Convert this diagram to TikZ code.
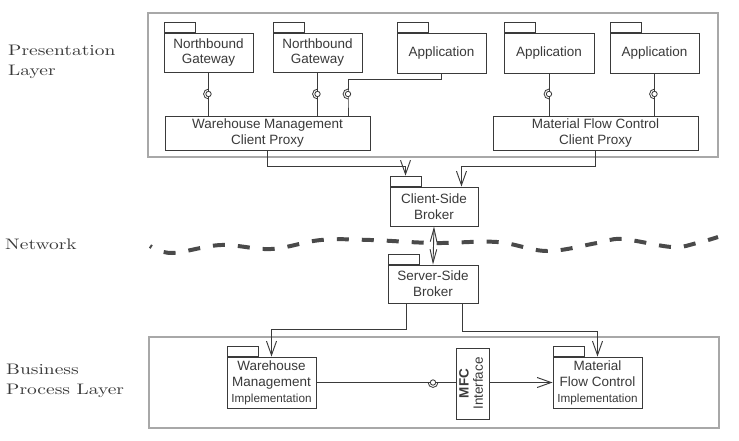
\documentclass[tikz,border=0pt]{standalone}
\usepackage{fontspec}
\usetikzlibrary{arrows.meta}
\newfontfamily\boxfont{Liberation Sans}
\newfontfamily\labelfont[FakeStretch=1.28]{lmroman10-regular.otf}
\definecolor{linegray}{HTML}{3A3A3A}
\definecolor{layergray}{HTML}{A8A8A8}
\definecolor{netgray}{HTML}{4A4A4A}
\tikzset{
  pkg/.style={draw=linegray, line width=0.8pt, fill=white, align=center, inner sep=0pt,
    text=linegray, font=\boxfont\fontsize{11.5}{13.6}\selectfont},
  pkgtab/.style={draw=linegray, line width=0.8pt, minimum width=0.93cm, minimum height=0.3cm,
    inner sep=0pt, anchor=south west},
  layer/.style={draw=layergray, line width=1.7pt},
  lbl/.style={anchor=north west, align=left, inner sep=0pt, text=linegray,
    font=\labelfont\fontsize{13}{17}\selectfont},
  conn/.style={draw=linegray, line width=0.8pt},
  arr/.style={-{Straight Barb[length=4.2mm,width=3mm]}},
  ball/.style={circle, draw=linegray, line width=0.7pt, fill=white, minimum size=4.6pt, inner sep=0pt},
}
\newcommand\socket[2]{\draw[linegray, line width=0.7pt] ([shift={(#2+90:4.2pt)}]#1.center) arc[start angle=#2+90, end angle=#2+270, radius=4.2pt];}
\begin{document}
\begin{tikzpicture}[x=0.03cm, y=-0.03cm]
\useasboundingbox (0,0) rectangle (739,440);

\draw[layer] (148,13) rectangle (718,157);
\draw[layer] (149,337) rectangle (719,428);

\node[lbl] (preslbl) at (8,45) {Presentation\\Layer};
\node[lbl] (netlbl) at (5,239) {Network};
\node[lbl] (buslbl) at (6,364) {Business\\Process Layer};

\node[pkg, minimum width=2.67cm, minimum height=1.17cm] (nb1) at (208.5,52.5) {Northbound\\Gateway};
\node[pkg, minimum width=2.67cm, minimum height=1.17cm] (nb2) at (317.5,52.5) {Northbound\\Gateway};
\node[pkg, minimum width=2.67cm, minimum height=1.2cm] (app1) at (441.5,53) {Application};
\node[pkg, minimum width=2.7cm, minimum height=1.2cm] (app2) at (549,53) {Application};
\node[pkg, minimum width=2.67cm, minimum height=1.2cm] (app3) at (654.5,53) {Application};
\node[pkg, minimum width=6.15cm, minimum height=1.02cm] (wmproxy) at (267.5,133) {Warehouse Management\\Client Proxy};
\node[pkg, minimum width=6.15cm, minimum height=1.02cm] (mfcproxy) at (595.5,133) {Material Flow Control\\Client Proxy};

\node[pkg, minimum width=2.64cm, minimum height=1.17cm] (csb) at (434,206.5) {Client-Side\\Broker};
\node[pkg, minimum width=2.7cm, minimum height=1.14cm] (ssb) at (433,284) {Server-Side\\Broker};

\node[pkg, minimum width=2.67cm, minimum height=1.53cm] (wmimpl) at (271.5,382.5)
  {Warehouse\\Management\\{\fontsize{10}{13.6}\selectfont Implementation}};
\node[pkg, minimum width=2.67cm, minimum height=1.53cm] (mfcimpl) at (597.5,382.5)
  {Material\\Flow Control\\{\fontsize{10}{13.6}\selectfont Implementation}};
\node[pkg, minimum width=0.99cm, minimum height=2.13cm] (mfcif) at (472.5,383.5)
  {\rotatebox{90}{\begin{tabular}{@{}c@{}}\textbf{MFC}\\[-1.5pt]Interface\end{tabular}}};

\foreach \p in {nb1,nb2,app1,app2,app3,csb,ssb,wmimpl,mfcimpl}
  \node[pkgtab] (\p tab) at (\p.north west) {};

\draw[conn] (nb1.south) -- (nb1.south |- wmproxy.north);
\draw[conn] (nb2.south) -- (nb2.south |- wmproxy.north);
\draw[conn] (app1.south) -- ++(0,6) -| (348,100) -- (348,0 |- wmproxy.north);
\draw[conn] (app2.south) -- (app2.south |- mfcproxy.north);
\draw[conn] (app3.south) -- (app3.south |- mfcproxy.north);

\node[ball] (b1) at (nb1.south |- 0,94) {};
\node[ball] (b2) at (nb2.south |- 0,94) {};
\node[ball] (b3) at (348,94) {};
\node[ball] (b4) at (app2.south |- 0,94) {};
\node[ball] (b5) at (app3.south |- 0,94) {};
\foreach \b in {b1,b2,b3,b4,b5} {\socket{\b}{0}}

\draw[conn, arr] (wmproxy.south) -- ++(0,16) -| (csbtab.north);
\draw[conn, arr] (mfcproxy.south) -- ++(0,16) -| ([xshift=-0.51cm]csb.north east);
\draw[conn, {Straight Barb[length=4mm,width=2mm]}-{Straight Barb[length=4mm,width=2mm]}] (csb.south) -- (ssb.north);

\draw[conn, arr] ([xshift=0.57cm]ssb.south west) -- ++(0,26) -| (wmimpl.north);
\draw[conn, arr] ([xshift=-0.48cm]ssb.south east) -- ++(0,28) -| (mfcimpl.north);

\draw[conn] (wmimpl.east) -- (wmimpl.east -| mfcif.west);
\node[ball] (b6) at (wmimpl.east -| 433,0) {};
\socket{b6}{90}
\draw[conn, arr] (mfcimpl.west -| mfcif.east) -- (mfcimpl.west);

\draw[netgray, line width=3.4pt, dash pattern=on 0.36cm off 0.39cm, dash phase=0.3cm]
  plot[smooth, tension=0.6] coordinates {(150,246) (172,253) (221,245) (271,249) (321,240)
  (371,240) (434,243) (497,242) (547,251) (597,243) (622,239) (672,247) (697,243) (718,237)};
\end{tikzpicture}
\end{document}
